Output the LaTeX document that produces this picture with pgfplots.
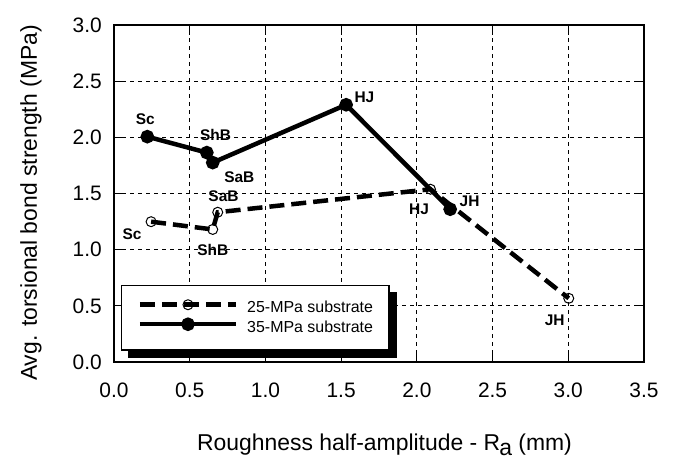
\documentclass[border=0pt]{standalone}
\usepackage{fontspec}
\setmainfont{Liberation Sans}
\usepackage{pgfplots}
\pgfplotsset{compat=1.18}
\pgfdeclarelayer{background}
\pgfsetlayers{background,main}
\begin{document}
\begin{tikzpicture}
\useasboundingbox (0,0) rectangle (678bp,460bp);
\begin{axis}[
  at={(114bp,98bp)}, anchor=south west,
  scale only axis, width=530bp, height=337bp,
  xmin=0, xmax=3.5, ymin=0, ymax=3.0,
  xtick={0,0.5,...,3.5}, ytick={0,0.5,...,3.0},
  /pgf/number format/.cd, fixed, fixed zerofill, precision=1, assume math mode=true,
  /pgfplots/.cd,
  tick label style={font=\fontsize{21}{25}\selectfont, inner sep=0pt},
  xticklabel style={anchor=base, yshift=-36bp},
  yticklabel style={anchor=east, xshift=-12bp},
  tick align=inside, tick pos=both, major tick length=10bp,
  every tick/.style={black, line width=1bp},
  axis line style={line width=1.5bp},
  grid=major,
  major grid style={black, line width=0.8bp, dash pattern=on 4bp off 4bp},
  label style={font=\fontsize{23}{27}\selectfont, inner sep=0pt},
  xlabel={Roughness half-amplitude - R\kern-1bp\raisebox{-5bp}{a} (mm)},
  xlabel style={at={(axis description cs:0.5104,-0.262)}, anchor=base},
  ylabel={Avg. torsional bond strength (MPa)},
  ylabel style={at={(axis description cs:-0.1453,0.4718)}, anchor=base},
  legend style={at={(axis description cs:0.0132,0.2285)}, anchor=north west,
    name=leg,
    draw=black, line width=1.5bp, fill=white,
    inner xsep=16bp, inner ysep=14bp, column sep=9bp, row sep=3bp,
    font=\fontsize{16}{19}\selectfont,
    nodes={inner sep=0pt, text height=12bp, text depth=4bp}},
  legend cell align=left,
  reverse legend,
  legend image code/.code={\draw[mark repeat=2,mark phase=2,#1] plot coordinates {(0bp,4bp) (48bp,4bp) (96bp,4bp)};},
  clip=false,
]
\addplot[black, line width=4.5bp, mark=*, mark size=4.5bp, mark options={solid, fill=black}]
  coordinates {(0.22,2.006) (0.613,1.864) (0.652,1.775) (1.533,2.29) (2.22,1.36)};
\addlegendentry{35-MPa substrate}
\addplot[black, line width=4.5bp, dash pattern=on 15bp off 7bp, mark=o, mark size=5bp,
  mark options={solid, fill=white, draw=black, line width=1bp}]
  coordinates {(0.245,1.249) (0.652,1.18) (0.685,1.333) (2.09,1.538) (3.003,0.567)};
\addlegendentry{25-MPa substrate}
\begin{scope}[every node/.style={font=\fontsize{15.5}{18}\bfseries, inner sep=0pt}]
\node at (axis cs:0.207,2.163) {Sc};
\node at (axis cs:0.670,2.021) {ShB};
\node at (axis cs:0.828,1.645) {SaB};
\node at (axis cs:1.654,2.354) {HJ};
\node at (axis cs:2.348,1.428) {JH};
\node at (axis cs:0.119,1.140) {Sc};
\node at (axis cs:0.652,0.997) {ShB};
\node at (axis cs:0.723,1.472) {SaB};
\node at (axis cs:2.014,1.360) {HJ};
\node at (axis cs:2.910,0.371) {JH};
\end{scope}
\end{axis}
\begin{pgfonlayer}{background}
\fill[black] ([shift={(7bp,-7bp)}]leg.south west) rectangle ([shift={(7bp,-7bp)}]leg.north east);
\end{pgfonlayer}
\end{tikzpicture}
\end{document}
